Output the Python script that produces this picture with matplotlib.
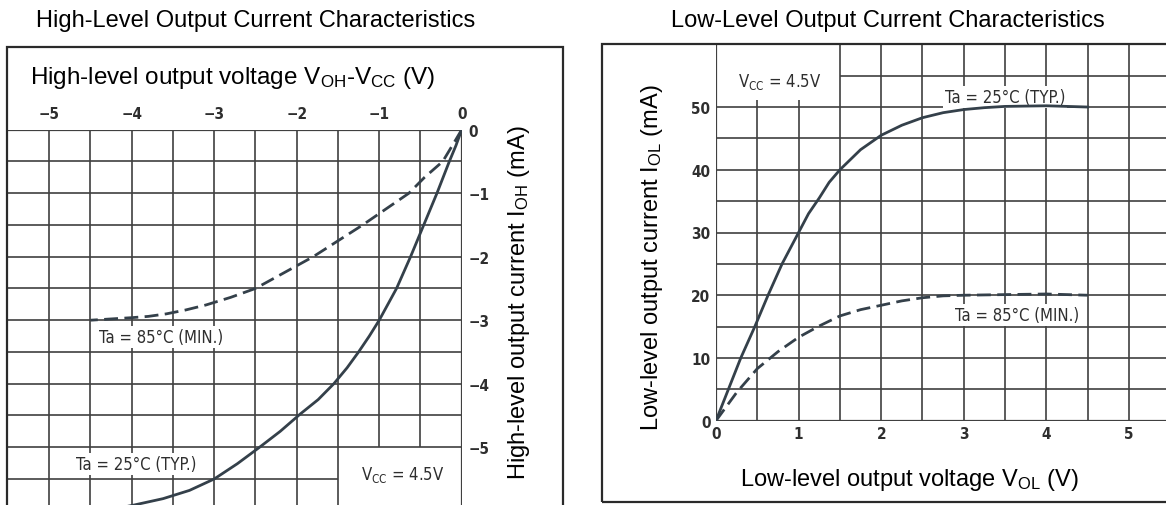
import numpy as np
import matplotlib
matplotlib.use('Agg')
import matplotlib.pyplot as plt
from matplotlib.patches import Rectangle

# ---- data ----
# high-level output: V_OH - V_CC (V) vs I_OH (mA)
hi_typ_v = [0, -0.07, -0.15, -0.30, -0.46, -0.62, -0.79, -1.00, -1.12, -1.25, -1.39,
            -1.55, -1.74, -1.96, -2.20, -2.45, -2.72, -3.00, -3.30, -3.62, -3.97, -4.40]
hi_typ_i = [0, -0.25, -0.5, -1.0, -1.5, -2.0, -2.5, -3.0, -3.25, -3.5, -3.75,
            -4.0, -4.25, -4.48, -4.75, -5.0, -5.26, -5.5, -5.68, -5.81, -5.91, -6.02]
hi_min_v = [0, -0.10, -0.23, -0.45, -0.64, -0.92, -1.20, -1.50, -1.80, -2.15, -2.50,
            -2.80, -3.10, -3.35, -3.58, -3.80, -4.00, -4.25, -4.50]
hi_min_i = [0, -0.22, -0.5, -0.75, -1.0, -1.25, -1.5, -1.75, -2.0, -2.25, -2.5,
            -2.64, -2.76, -2.84, -2.9, -2.94, -2.96, -2.98, -3.0]

# low-level output: V_OL (V) vs I_OL (mA)
lo_typ_v = [0, 0.15, 0.30, 0.47, 0.63, 0.80, 1.00, 1.12, 1.25, 1.37, 1.50, 1.75, 2.00,
            2.25, 2.50, 2.75, 3.00, 3.25, 3.50, 4.00, 4.50]
lo_typ_i = [0, 5, 10, 15, 20, 25, 30, 33, 35.5, 38, 40, 43.2, 45.5,
            47.1, 48.3, 49.1, 49.6, 49.9, 50.1, 50.2, 50.0]
lo_min_v = [0, 0.25, 0.50, 0.75, 1.00, 1.25, 1.50, 1.75, 2.00, 2.25, 2.50, 2.75,
            3.00, 3.50, 4.00, 4.50]
lo_min_i = [0, 4.5, 8.3, 11.0, 13.3, 15.1, 16.7, 17.7, 18.4, 19.1, 19.6, 19.9,
            20.0, 20.1, 20.2, 20.0]

hi_xticks = [-5, -4, -3, -2, -1, 0]
hi_xlabels = ['−5', '−4', '−3', '−2', '−1', '0']
hi_yticks = [0, -1, -2, -3, -4, -5]
hi_ylabels = ['0', '−1', '−2', '−3', '−4', '−5']
lo_xticks = [0, 1, 2, 3, 4, 5]
lo_xlabels = ['0', '1', '2', '3', '4', '5']
lo_yticks = [0, 10, 20, 30, 40, 50]
lo_ylabels = ['0', '10', '20', '30', '40', '50']

plt.rcParams['font.family'] = ['Liberation Sans', 'DejaVu Sans']
plt.rcParams['mathtext.fontset'] = 'custom'
plt.rcParams['mathtext.rm'] = 'Liberation Sans'

NARROW = ['DejaVu Sans']
GRID = '#404040'
INK = '#34404a'
TXT = '#2e2e2e'

W, H = 1166, 506
fig = plt.figure(figsize=(W / 100, H / 100), dpi=100)


def add_px_axes(x0, y0, x1, y1):
    return fig.add_axes([x0 / W, 1 - y1 / H, (x1 - x0) / W, (y1 - y0) / H])


def frame(x0, y0, x1, y1):
    fig.patches.append(Rectangle((x0 / W, 1 - y1 / H), (x1 - x0) / W, (y1 - y0) / H,
                                 transform=fig.transFigure, fill=False,
                                 edgecolor='#2a2a2a', linewidth=1.6))


def narrow_text(ax, x, y, s, boxed=True):
    kw = dict(family=NARROW, fontstretch='condensed', fontsize=12, color=TXT,
              ha='center', va='center', zorder=3)
    if boxed:
        kw['bbox'] = dict(facecolor='white', edgecolor='none', pad=1.5)
    ax.text(x, y, s, **kw)


frame(7, 48, 563, 520)
frame(601.5, 45.3, 1180, 503)

# ---------------- left panel ----------------
ax1 = add_px_axes(8, 130.7, 461.7, 506)
ax1.set_xlim(-5.5, 0)
ax1.set_ylim(-5.91, 0)
for s in ax1.spines.values():
    s.set_visible(False)

for xv in np.arange(-5.0, -1.49, 0.5):
    ax1.vlines(xv, -6.0, 0, color=GRID, lw=1.2, zorder=1)
for xv in [-1.0, -0.5]:
    ax1.vlines(xv, -5.0, 0, color=GRID, lw=1.2, zorder=1)
ax1.vlines(0, -6.0, 0, color=GRID, lw=1.6, zorder=1)
for yv in np.arange(-0.5, -5.01, -0.5):
    ax1.hlines(yv, -5.5, 0, color=GRID, lw=1.2, zorder=1)
ax1.hlines(-5.5, -5.5, -1.5, color=GRID, lw=1.2, zorder=1)
ax1.hlines(0, -5.5, 0, color=GRID, lw=1.6, zorder=1)

ax1.plot(hi_typ_v, hi_typ_i, color=INK, lw=2.0, zorder=4)
ax1.plot(hi_min_v, hi_min_i, color=INK, lw=2.0, zorder=4, dashes=(5, 2.3))

ax1.xaxis.tick_top()
ax1.set_xticks(hi_xticks, labels=hi_xlabels)
ax1.yaxis.tick_right()
ax1.set_yticks(hi_yticks, labels=hi_ylabels)
ax1.tick_params(length=0, labelsize=11, labelcolor=TXT)
ax1.tick_params(axis='x', pad=6)
ax1.tick_params(axis='y', pad=5)
for lab in ax1.get_xticklabels() + ax1.get_yticklabels():
    lab.set_family(NARROW)
    lab.set_fontstretch('condensed')
    lab.set_fontweight('bold')

narrow_text(ax1, -3.64, -3.27, 'Ta = 85°C (MIN.)')
narrow_text(ax1, -3.94, -5.26, 'Ta = 25°C (TYP.)')
narrow_text(ax1, -0.71, -5.42, r'$\mathregular{V_{CC}}$ = 4.5V', boxed=False)

fig.text(30 / W, 1 - 78 / H, r'High-level output voltage $\mathregular{V_{OH}}$-$\mathregular{V_{CC}}$ (V)',
         fontsize=17.5, ha='left', va='center', color='black')
fig.text(519 / W, 1 - 303 / H, r'High-level output current I$\mathregular{_{OH}}$ (mA)',
         fontsize=17, rotation=90, ha='center', va='center', color='black')
fig.text(256 / W, 1 - 21 / H, 'High-Level Output Current Characteristics',
         fontsize=17, ha='center', va='center', color='black')

# ---------------- right panel ----------------
ax2 = add_px_axes(716, 45.3, 1166, 421.7)
ax2.set_xlim(0, 5.448)
ax2.set_ylim(0, 60)
for s in ax2.spines.values():
    s.set_visible(False)

ax2.vlines(0, 0, 60, color=GRID, lw=1.6, zorder=1)
for xv in [0.5, 1.0]:
    ax2.vlines(xv, 0, 51.2, color=GRID, lw=1.2, zorder=1)
for xv in np.arange(1.5, 5.01, 0.5):
    ax2.vlines(xv, 0, 60, color=GRID, lw=1.2, zorder=1)
for yv in np.arange(5, 50.1, 5):
    ax2.hlines(yv, 0, 5.448, color=GRID, lw=1.2, zorder=1)
ax2.hlines(55, 1.5, 5.448, color=GRID, lw=1.2, zorder=1)
ax2.hlines(0, 0, 5.448, color=GRID, lw=1.6, zorder=1)

ax2.plot(lo_typ_v, lo_typ_i, color=INK, lw=2.0, zorder=4)
ax2.plot(lo_min_v, lo_min_i, color=INK, lw=2.0, zorder=4, dashes=(5, 2.3))

ax2.set_xticks(lo_xticks, labels=lo_xlabels)
ax2.set_yticks(lo_yticks, labels=lo_ylabels)
ax2.tick_params(length=0, labelsize=11, labelcolor=TXT)
ax2.tick_params(axis='x', pad=4)
ax2.tick_params(axis='y', pad=4)
for lab in ax2.get_xticklabels() + ax2.get_yticklabels():
    lab.set_family(NARROW)
    lab.set_fontstretch('condensed')
    lab.set_fontweight('bold')

narrow_text(ax2, 0.77, 54.2, r'$\mathregular{V_{CC}}$ = 4.5V', boxed=False)
narrow_text(ax2, 3.5, 51.6, 'Ta = 25°C (TYP.)')
narrow_text(ax2, 3.64, 16.9, 'Ta = 85°C (MIN.)')

fig.text(652 / W, 1 - 258 / H, r'Low-level output current I$\mathregular{_{OL}}$ (mA)',
         fontsize=17, rotation=90, ha='center', va='center', color='black')
fig.text(909 / W, 1 - 480 / H, r'Low-level output voltage V$\mathregular{_{OL}}$ (V)',
         fontsize=17, ha='center', va='center', color='black')
fig.text(888 / W, 1 - 21 / H, 'Low-Level Output Current Characteristics',
         fontsize=17, ha='center', va='center', color='black')

fig.savefig('out.png', dpi=100)
